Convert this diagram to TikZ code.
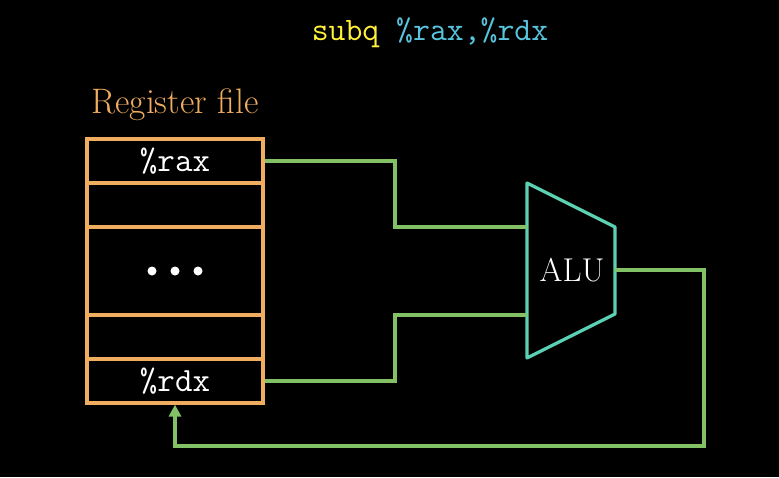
\documentclass[tikz,border=0pt]{standalone}
\usepackage{amsmath}
\usetikzlibrary{arrows.meta}
\definecolor{gold}{HTML}{F0AC5F}
\definecolor{wiregreen}{HTML}{83C167}
\definecolor{teal}{HTML}{5CD0B3}
\definecolor{yel}{HTML}{FFF03A}
\definecolor{blu}{HTML}{58C4DD}
\tikzset{
  wire/.style={wiregreen, line width=1.6pt},
  reg/.style={draw=gold, line width=1.6pt, minimum width=88pt, inner sep=0pt, text=white, font=\fontsize{17}{20}\selectfont\ttfamily}
}
\begin{document}
\begin{tikzpicture}[x=0.5pt, y=0.5pt]
\fill[black] (0,0) rectangle (779,477);
\useasboundingbox (0,0) rectangle (779,477);

\node[font=\fontsize{16.4}{19}\selectfont\ttfamily](title) at (430,444) {\textcolor{yel}{subq} \textcolor{blu}{\%rax,\%rdx}};
\node[text=gold, font=\fontsize{17.7}{21}\selectfont](rflabel) at (175,372) {Register file};

\begin{scope}[every node/.style={reg}]
\node[minimum height=22pt](rax) at (175,316) {\%rax};
\node[minimum height=22pt](r1) at (175,272) {};
\node[minimum height=44pt](dots) at (175,206) {};
\node[minimum height=22pt](r2) at (175,140) {};
\node[minimum height=22pt](rdx) at (175,96) {\%rdx};
\end{scope}

\foreach \x in {152,175,198}
  \fill[white] (\x,206) circle (4.5);

% ALU
\draw[teal, line width=1.6pt, line join=round] (527,294) -- (615,250) -- (615,163) -- (527,119) -- cycle;
\node[text=white, font=\fontsize{16.5}{19}\selectfont](alu) at (572,207) {ALU};
\coordinate (in1) at (527,250);
\coordinate (in2) at (527,162);
\coordinate (out) at (615,207);

\draw[wire] (rax.east) -| (395,250) -- (in1);
\draw[wire] (rdx.east) -| (395,162) -- (in2);
\draw[wire, -{Triangle[length=6pt, width=6pt]}] (out) -| (704,31) -| (rdx.south);
\end{tikzpicture}
\end{document}
